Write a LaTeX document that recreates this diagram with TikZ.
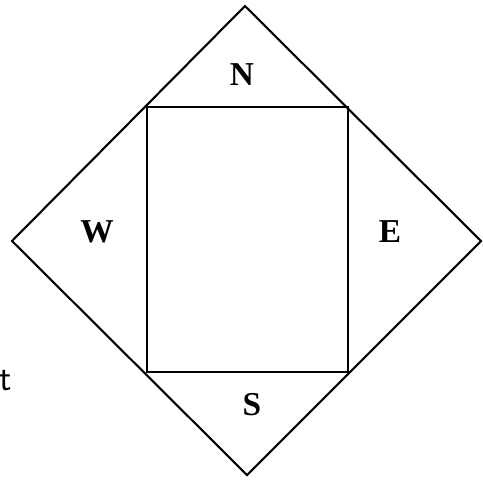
\documentclass[tikz,border=0pt]{standalone}
\usepackage{fontspec}
\setmainfont{Liberation Serif}
\usepackage{tikz}

\begin{document}
\begin{tikzpicture}[x=0.02cm, y=-0.02cm, line join=miter,
    side/.style={line width=1.2pt},
    lbl/.style={font=\fontsize{19}{22}\selectfont\bfseries}]
  \useasboundingbox (0,0) rectangle (483,481);

  % Rombo exterior
  \coordinate (top) at (245,6);
  \coordinate (rgt) at (481,241);
  \coordinate (bot) at (247,475);
  \coordinate (lft) at (12,241);
  \draw[side] (top) -- (rgt) -- (bot) -- (lft) -- cycle;

  % Cuadrado interior
  \draw[side] (147,107) rectangle (348,372);

  % Puntos cardinales
  \node[lbl] (n) at (242,75) {N};
  \node[lbl] (w) at (97,232) {W};
  \node[lbl] (e) at (390,232) {E};
  \node[lbl] (s) at (252,405) {S};

  \node[font=\huge\sffamily] (t) at (6,381) {t};
\end{tikzpicture}
\end{document}
